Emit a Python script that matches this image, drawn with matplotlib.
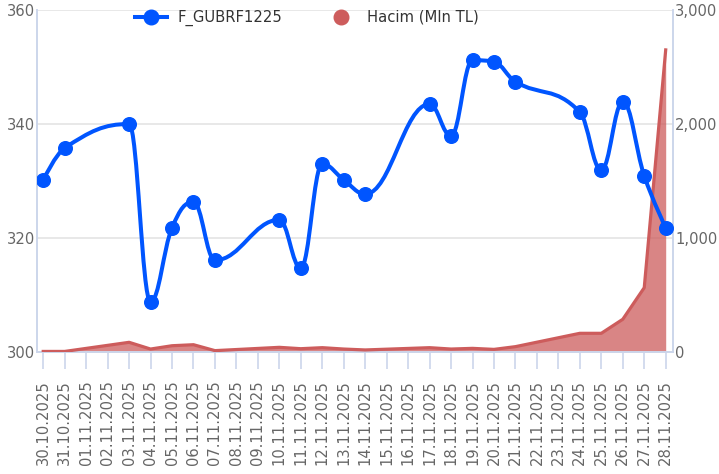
import matplotlib
matplotlib.use("Agg")
import matplotlib.pyplot as plt
import numpy as np
import pandas as pd
from matplotlib.path import Path
from matplotlib.patches import PathPatch
from matplotlib.lines import Line2D
from matplotlib.ticker import FuncFormatter

# data
all_days = pd.date_range("2025-10-30", "2025-11-28", freq="D")
trade_days = ["30.10.2025", "31.10.2025", "03.11.2025", "04.11.2025", "05.11.2025",
              "06.11.2025", "07.11.2025", "10.11.2025", "11.11.2025", "12.11.2025",
              "13.11.2025", "14.11.2025", "17.11.2025", "18.11.2025", "19.11.2025",
              "20.11.2025", "21.11.2025", "24.11.2025", "25.11.2025", "26.11.2025",
              "27.11.2025", "28.11.2025"]
price = [330.2, 335.8, 340.0, 308.8, 321.8, 326.3, 316.1, 323.2, 314.7, 333.0,
         330.2, 327.7, 343.5, 337.9, 351.2, 350.9, 347.4, 342.1, 331.9, 343.9,
         330.9, 321.8]
volume = [5, 5, 85, 26, 55, 64, 12, 41, 29, 38,
          26, 18, 38, 26, 32, 23, 47, 164, 164, 287,
          564, 2650]

BLUE = "#0055ff"
RED = "#cd5c5c"
AXIS_COL = "#ccd6eb"
GRID_COL = "#e6e6e6"
LABEL_COL = "#666666"

day_labels = [d.strftime("%d.%m.%Y") for d in all_days]
xs = np.array([day_labels.index(d) for d in trade_days], dtype=float)


def spline_path(x, y, smoothing=1.5):
    # highcharts style spline through the points
    n = len(x)
    lc = [None] * n
    rc = [None] * n
    denom = smoothing + 1
    for i in range(1, n - 1):
        px, py = x[i], y[i]
        lx, ly = x[i - 1], y[i - 1]
        nx, ny = x[i + 1], y[i + 1]
        lcx = (smoothing * px + lx) / denom
        lcy = (smoothing * py + ly) / denom
        rcx = (smoothing * px + nx) / denom
        rcy = (smoothing * py + ny) / denom
        if rcx != lcx:
            corr = (rcy - lcy) * (rcx - px) / (rcx - lcx) + py - rcy
            lcy += corr
            rcy += corr
            if lcy > ly and lcy > py:
                lcy = max(ly, py)
                rcy = 2 * py - lcy
            elif lcy < ly and lcy < py:
                lcy = min(ly, py)
                rcy = 2 * py - lcy
            if rcy > ny and rcy > py:
                rcy = max(ny, py)
                lcy = 2 * py - rcy
            elif rcy < ny and rcy < py:
                rcy = min(ny, py)
                lcy = 2 * py - rcy
        lc[i] = (lcx, lcy)
        rc[i] = (rcx, rcy)
    verts = [(x[0], y[0])]
    codes = [Path.MOVETO]
    for i in range(1, n):
        c1 = rc[i - 1] if rc[i - 1] is not None else (x[i - 1], y[i - 1])
        c2 = lc[i] if lc[i] is not None else (x[i], y[i])
        verts += [c1, c2, (x[i], y[i])]
        codes += [Path.CURVE4, Path.CURVE4, Path.CURVE4]
    return Path(verts, codes)


W, H = 719, 474
fig = plt.figure(figsize=(W / 100, H / 100), dpi=100)
plt.rcParams['font.family'] = ['DejaVu Sans']
FS = 10.6

left, right, top, bottom = 37, 673, 10, 352
ax2 = fig.add_axes([left / W, 1 - bottom / H, (right - left) / W, (bottom - top) / H])
ax = ax2.twinx()
ax.set_zorder(ax2.get_zorder() + 1)
ax.patch.set_visible(False)

# volume area (right axis)
ax2.fill_between(xs, 0, volume, color=RED, alpha=0.75, linewidth=0, zorder=2)
ax2.plot(xs, volume, color=RED, linewidth=2.3, zorder=3, solid_joinstyle="round")
ax2.set_ylim(0, 3000)
ax2.set_yticks([0, 1000, 2000, 3000])
ax2.yaxis.set_major_formatter(FuncFormatter(lambda v, p: "{:,.0f}".format(v)))
ax2.grid(axis="y", color=GRID_COL, linewidth=1.3, zorder=0)
ax2.set_axisbelow(True)
ax2.yaxis.tick_right()

# price line (left axis)
ax.add_patch(PathPatch(spline_path(xs, np.array(price, dtype=float)), facecolor="none",
                       edgecolor=BLUE, linewidth=2.9, zorder=4, capstyle="round"))
ax.plot(xs, price, "o", color=BLUE, markersize=9.8, zorder=5)
ax.set_ylim(300, 360)
ax.set_yticks([300, 320, 340, 360])
ax.yaxis.tick_left()

ax2.set_xlim(-0.29, 29.34)
ax2.set_xticks(np.arange(len(day_labels)))
ax2.set_xticklabels(day_labels, rotation=90, va="top", ha="center")

for a in (ax, ax2):
    for s in a.spines.values():
        s.set_visible(False)
ax.spines["left"].set_visible(True)
ax.spines["left"].set_color(AXIS_COL)
ax.spines["left"].set_linewidth(1.4)
ax2.spines["bottom"].set_visible(True)
ax2.spines["bottom"].set_color(AXIS_COL)
ax2.spines["bottom"].set_linewidth(1.4)
ax2.spines["right"].set_visible(True)
ax2.spines["right"].set_color(AXIS_COL)
ax2.spines["right"].set_linewidth(1.4)

ax2.tick_params(axis="x", length=12.5, width=1.2, color=AXIS_COL, labelcolor=LABEL_COL,
                labelsize=FS, pad=8)
ax.tick_params(axis="y", length=0, labelcolor=LABEL_COL, labelsize=FS, pad=1.5)
ax2.tick_params(axis="y", length=0, labelcolor=LABEL_COL, labelsize=FS, pad=1.5)

handles = [
    Line2D([], [], color=BLUE, linewidth=2.9, marker="o", markersize=10.5),
    Line2D([], [], color=RED, linestyle="none", marker="o", markersize=10.5),
]
fig.legend(handles, ["F_GUBRF1225", "Hacim (Mln TL)"], loc="center left",
           bbox_to_anchor=(135 / W, 1 - 18 / H), ncol=2, frameon=False,
           fontsize=FS, labelcolor="#333333", handlelength=2.2, handletextpad=0.7,
           columnspacing=2.87, borderaxespad=0, borderpad=0)

fig.savefig("out.png", dpi=100)
